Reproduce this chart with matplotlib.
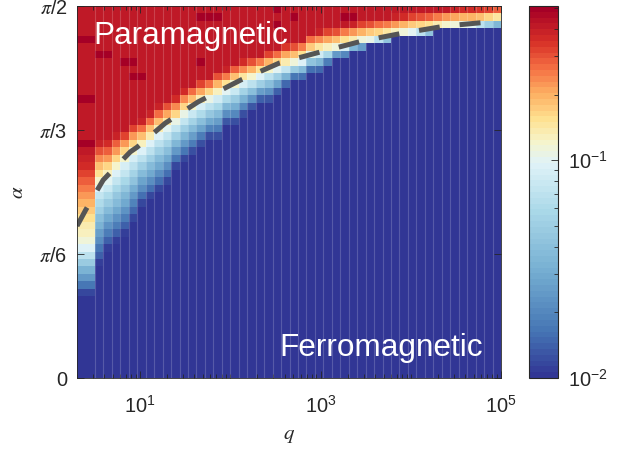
import numpy as np
import matplotlib
matplotlib.use('Agg')
import matplotlib.pyplot as plt
from matplotlib.colors import LinearSegmentedColormap, LogNorm
from matplotlib.ticker import FixedLocator, NullFormatter

plt.rcParams['font.family'] = ['Liberation Sans', 'DejaVu Sans']
plt.rcParams['mathtext.fontset'] = 'stix'

# grid: 49 columns in log10(q), 50 rows in alpha
q_log_edges = np.r_[np.log10(2), np.linspace(0.50, 5.0, 49)]
alpha_edges = np.linspace(0, np.pi / 2, 51)

# per column (row units, counted from alpha = 0)
blue_top = [11, 15, 17, 18, 19, 21, 23, 24, 25, 26,
            28, 29, 30, 31, 32, 32, 34, 34, 35, 36,
            37, 37, 38, 39, 40, 40, 41, 41, 42, 43,
            43, 44, 44, 45, 45, 45, 46, 46, 46, 46,
            46, 47, 47, 47, 47, 47, 47, 47, 47]
white_pos = [17.6, 25.8, 26.5, 27.8, 28.9, 29.9, 30.8, 31.7, 32.7, 33.5,
             34.3, 35.4, 36.1, 36.8, 37.3, 38.0, 38.5, 39.1, 39.7, 40.1,
             40.6, 41.1, 41.5, 41.9, 42.2, 42.6, 43.4, 43.7, 44.0, 44.3,
             44.6, 44.9, 45.2, 45.4, 45.6, 45.8, 46.0, 46.3, 46.5, 46.6,
             46.8, 47.0, 47.2, 47.3, 47.4, 47.5, 47.6, 47.7, 47.9]
red_len = [12.4, 6.0, 5.5, 5.0, 4.5, 4.5, 4.0, 4.0, 4.0, 3.8,
           3.6, 3.4, 3.4, 3.3, 3.3, 3.2, 3.2, 3.2, 3.1, 3.1,
           3.0, 3.0, 3.0, 3.0, 3.0, 3.0, 3.0, 3.0, 3.0, 2.9,
           2.9, 2.8, 2.8, 2.7, 2.7, 2.6, 2.6, 2.5, 2.5, 2.5,
           2.4, 2.4, 2.3, 2.3, 2.3, 2.2, 2.2, 2.2, 2.2]
v_ferro = 0.01
v_para = 0.42
v_dark = 0.50
dark_cells = [(0, 45), (0, 37), (0, 31), (1, 43), (2, 43), (4, 42), (5, 42),
              (5, 40), (6, 40), (13, 42), (13, 48), (14, 48), (15, 48),
              (22, 49), (22, 47), (24, 48), (30, 48), (31, 48), (37, 48), (38, 48)]

# dashed boundary
q_dash = [2.0, 2.5, 3.9, 7.8, 9.3, 19, 44, 130, 350, 980, 2900, 8100, 24000, 72000, 98000]
a_dash = [0.642, 0.710, 0.836, 0.955, 0.975, 1.076, 1.166, 1.258, 1.330, 1.376,
          1.423, 1.456, 1.486, 1.503, 1.511]

n_rows = len(alpha_edges) - 1
pos = np.arange(n_rows) + 0.5
lo, hi = np.log10(v_ferro), np.log10(v_para)
Z = np.zeros((n_rows, len(blue_top)))
for j in range(len(blue_top)):
    r0, c, rl = blue_top[j], white_pos[j], red_len[j]
    lv = np.where(pos <= c, lo + (pos - r0) / (c - r0),
                  -1 + (pos - c) / rl * (hi + 1))
    Z[:, j] = 10 ** np.clip(lv, lo, hi)
for j, i in dark_cells:
    if Z[i, j] >= v_para * 0.999:
        Z[i, j] = v_dark

nodes = [(0.00, '#313695'), (0.12, '#4575b4'), (0.28, '#74add1'), (0.45, '#abd9e9'),
         (0.58, '#e0f3f8'), (0.64, '#f7f4c8'), (0.70, '#fee090'), (0.77, '#fdae61'),
         (0.84, '#f46d43'), (0.91, '#d73027'), (1.00, '#a50026')]
cmap = LinearSegmentedColormap.from_list('rdylbu_bent', nodes, N=64)
norm = LogNorm(vmin=0.01, vmax=0.51)

fig = plt.figure(figsize=(6.23, 4.51), dpi=100)
ax = fig.add_axes([77 / 623, 73 / 451, 424 / 623, 372 / 451])
mesh = ax.pcolormesh(10 ** q_log_edges, alpha_edges, Z, cmap=cmap, norm=norm,
                     shading='flat', rasterized=True)
ax.vlines(10 ** q_log_edges[1:-1], 0, np.pi / 2, colors='white', alpha=0.18, lw=0.8)
ax.plot(q_dash, a_dash, color='#555555', lw=3.6, dashes=(4.2, 4.0))

ax.set_xscale('log')
ax.set_xlim(2, 1e5)
ax.set_ylim(0, np.pi / 2)
ax.xaxis.set_major_locator(FixedLocator([10, 1e3, 1e5]))
minors = [m * 10.0 ** e for e in range(0, 5) for m in range(1, 10)]
minors = [v for v in minors if 2 <= v <= 1e5 and v not in (10, 1e3, 1e5)]
ax.xaxis.set_minor_locator(FixedLocator(minors))
ax.xaxis.set_minor_formatter(NullFormatter())
ax.set_yticks([0, np.pi / 6, np.pi / 3, np.pi / 2])
ax.set_yticklabels(['0', r'$\pi$/6', r'$\pi$/3', r'$\pi$/2'])

dark = '#262626'
for s in ax.spines.values():
    s.set_color(dark)
    s.set_linewidth(0.6)
ax.tick_params(which='both', direction='in', top=True, right=True, color=dark,
               labelcolor=dark, labelsize=14.4, width=0.6)
ax.tick_params(which='major', length=5)
ax.tick_params(which='minor', length=3)
ax.tick_params(axis='x', pad=12)
ax.tick_params(axis='y', pad=7)
ax.set_xlabel(r'$q$', fontsize=15, color=dark, labelpad=7)
ax.set_ylabel(r'$\alpha$', fontsize=15, color=dark, labelpad=9)

ax.text(0.038, 0.898, 'Paramagnetic', transform=ax.transAxes, color='white',
        fontsize=22.7, va='baseline', ha='left')
ax.text(0.958, 0.059, 'Ferromagnetic', transform=ax.transAxes, color='white',
        fontsize=22.7, va='baseline', ha='right')

cax = fig.add_axes([529 / 623, 73 / 451, 29 / 623, 372 / 451])
cb = fig.colorbar(mesh, cax=cax)
cb.set_ticks([0.01, 0.1])
cb.ax.yaxis.set_minor_locator(FixedLocator([m * 0.01 for m in range(2, 10)] +
                                           [m * 0.1 for m in range(2, 6)]))
cb.ax.yaxis.set_minor_formatter(NullFormatter())
cb.ax.tick_params(which='both', direction='in', right=True, left=False, color=dark,
                  labelcolor=dark, labelsize=14.4, width=0.6, pad=7)
cb.ax.tick_params(which='major', length=5)
cb.ax.tick_params(which='minor', length=3)
cb.outline.set_edgecolor(dark)
cb.outline.set_linewidth(0.8)

fig.savefig('out.png', dpi=100)
